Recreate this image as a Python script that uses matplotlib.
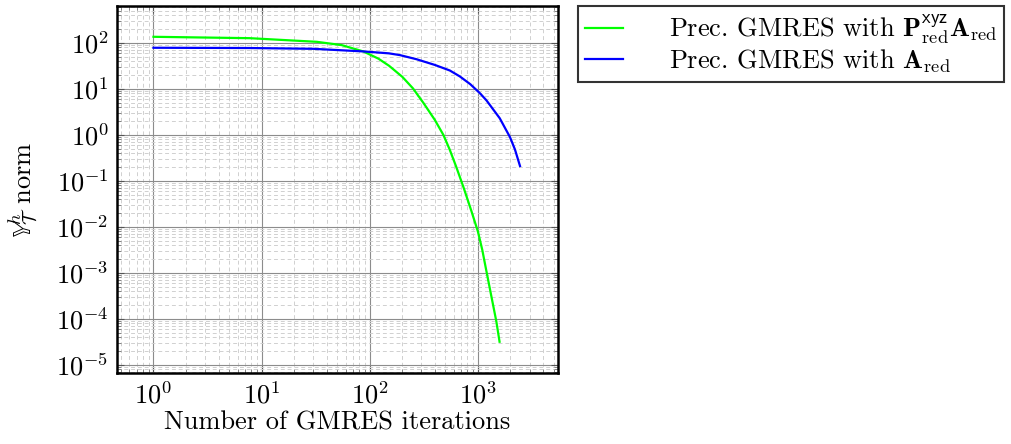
import numpy as np
import matplotlib.pyplot as plt
from matplotlib.ticker import LogLocator, NullFormatter

plt.rcParams['font.family'] = 'serif'
plt.rcParams['font.serif'] = ['cmr10', 'DejaVu Serif']
plt.rcParams['mathtext.fontset'] = 'cm'
plt.rcParams['axes.formatter.use_mathtext'] = True

# green: preconditioned with P^xyz A_red
iters_pa = [1, 7.76, 32.4, 55, 87, 120, 151, 200, 251, 316, 398, 479, 550, 631,
            741, 871, 1000, 1096, 1202, 1318, 1479, 1585]
norm_pa = [135, 126, 105, 89, 65, 45.3, 31.6, 18.2, 10.2, 4.8, 2.14, 1.0, 0.47, 0.20,
           0.069, 0.022, 0.0079, 0.0032, 0.00105, 3.5e-4, 8.9e-5, 3.2e-5]

# blue: preconditioned with A_red
iters_a = [1, 7.7, 30, 87, 150, 190, 270, 400, 550, 680, 850, 1050, 1200, 1590, 1980, 2200, 2450]
norm_a = [78, 77, 74, 65, 59, 54, 44, 33, 25, 18.6, 12.6, 7.9, 5.6, 2.3, 0.89, 0.48, 0.21]

xticks = [1e0, 1e1, 1e2, 1e3]
yticks = [1e-5, 1e-4, 1e-3, 1e-2, 1e-1, 1e0, 1e1, 1e2]

fig = plt.figure(figsize=(10.11, 4.44), dpi=100)
ax = fig.add_axes([117/1011, 1-373/444, (558-117)/1011, (373-6)/444])

l1, = ax.plot(iters_pa, norm_pa, color='#00ff00', lw=1.6)
l2, = ax.plot(iters_a, norm_a, color='#0000ff', lw=1.6)

ax.set_xscale('log')
ax.set_yscale('log')
ax.set_xticks(xticks)
ax.set_yticks(yticks)
ax.xaxis.set_minor_locator(LogLocator(base=10, subs=np.arange(2, 10), numticks=20))
ax.yaxis.set_minor_locator(LogLocator(base=10, subs=np.arange(2, 10), numticks=20))
ax.xaxis.set_minor_formatter(NullFormatter())
ax.yaxis.set_minor_formatter(NullFormatter())
ax.set_xlim(0.46, 5500)
ax.set_ylim(6.7e-6, 630)

ax.grid(True, which='major', color='#8c8c8c', lw=0.8, ls='-')
ax.grid(True, which='minor', color='#d0d0d0', lw=0.7, ls=(0, (4, 3)))
ax.set_axisbelow(True)
ax.tick_params(which='both', direction='in', top=True, right=True, labelsize=19)
ax.tick_params(which='major', length=5, width=0.8, color='#555555', pad=6)
ax.tick_params(which='minor', length=3, width=0.6, color='#777777')
for s in ax.spines.values():
    s.set_linewidth(1.8)

ax.set_xlabel('Number of GMRES iterations', fontsize=19, labelpad=2)
ax.set_ylabel(r'$\mathbb{Y}^h_{\mathcal{T}}$ norm', fontsize=19, labelpad=12)

leg = fig.legend([l1, l2],
                 [r'Prec. GMRES with $\mathbf{P}^{\mathsf{xyz}}_{\mathrm{red}}\mathbf{A}_{\mathrm{red}}$',
                  r'Prec. GMRES with $\mathbf{A}_{\mathrm{red}}$'],
                 loc='upper left', bbox_to_anchor=(578/1011, 1-6/444),
                 fontsize=19, frameon=True, fancybox=False, edgecolor='black',
                 handlelength=1.45, handletextpad=1.75, borderaxespad=0,
                 labelspacing=0.05, borderpad=0.25)
leg.get_frame().set_linewidth(1.5)

fig.savefig('out.png', dpi=100)
